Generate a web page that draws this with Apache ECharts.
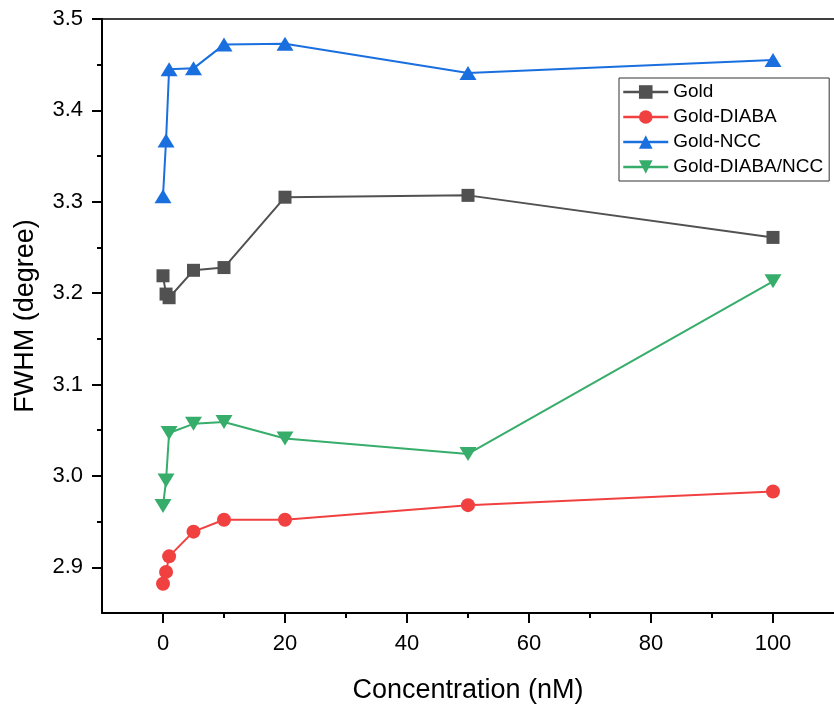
<!DOCTYPE html>
<html>
<head>
<meta charset="utf-8">
<script src="https://cdn.jsdelivr.net/npm/echarts@6/dist/echarts.min.js"></script>
<style>
  html, body { margin: 0; padding: 0; background: #fff; }
  #chart { width: 834px; height: 709px; }
</style>
</head>
<body>
<div id="chart"></div>
<script>
// concentrations (nM)
const conc = [0, 0.5, 1, 5, 10, 20, 50, 100];
const gold = [3.219, 3.199, 3.195, 3.225, 3.228, 3.305, 3.307, 3.261];
const goldDiaba = [2.882, 2.895, 2.912, 2.939, 2.952, 2.952, 2.968, 2.983];
const goldNcc = [3.306, 3.367, 3.445, 3.446, 3.472, 3.473, 3.441, 3.455];
const goldDiabaNcc = [2.967, 2.995, 3.047, 3.057, 3.059, 3.041, 3.024, 3.213];

const xMajor = [0, 20, 40, 60, 80, 100];
const xMinor = [10, 30, 50, 70, 90];
const yMajor = [2.9, 3.0, 3.1, 3.2, 3.3, 3.4, 3.5];
const yMinor = [2.95, 3.05, 3.15, 3.25, 3.35, 3.45];

const font = 'Liberation Sans, Arial, sans-serif';
const toPairs = (ys) => conc.map((x, i) => [x, ys[i]]);

const chart = echarts.init(document.getElementById('chart'));

const hiddenLine = { show: false, onZero: false };
const blackLine = { show: true, onZero: false, lineStyle: { color: '#000', width: 2 } };

const baseX = {
    type: 'value', min: -10, max: 110, interval: 10,
    splitLine: { show: false }
};
const baseY = {
    type: 'value', min: 2.85, max: 3.5, interval: 0.05,
    splitLine: { show: false }
};

// axis that only draws ticks at the given values
const tickAxis = (base, position, values, len) => Object.assign({}, base, {
    position: position,
    axisLine: hiddenLine,
    axisTick: { show: true, customValues: values, length: len, lineStyle: { color: '#000', width: 2 } },
    axisLabel: { show: false }
});

const option = {
    animation: false,
    grid: { left: 102, top: 19, width: 737, height: 594, containLabel: false },
    xAxis: [
        Object.assign({}, baseX, {
            position: 'bottom',
            axisLine: blackLine,
            axisTick: { show: false },
            axisLabel: {
                customValues: xMajor, margin: 20,
                color: '#000', fontSize: 22, fontFamily: font
            },
            name: 'Concentration (nM)',
            nameLocation: 'middle',
            nameGap: 64,
            nameTextStyle: { color: '#000', fontSize: 27, fontFamily: font }
        }),
        tickAxis(baseX, 'bottom', xMajor, 10),
        tickAxis(baseX, 'bottom', xMinor, 5),
        Object.assign({}, baseX, {
            position: 'top',
            axisLine: { show: true, onZero: false, lineStyle: { color: '#000', width: 1.5 } },
            axisTick: { show: false },
            axisLabel: { show: false }
        })
    ],
    yAxis: [
        Object.assign({}, baseY, {
            position: 'left',
            axisLine: blackLine,
            axisTick: { show: false },
            axisLabel: {
                customValues: yMajor, margin: 19,
                color: '#000', fontSize: 22, fontFamily: font,
                formatter: (v) => v.toFixed(1)
            },
            name: 'FWHM (degree)',
            nameLocation: 'middle',
            nameGap: 63,
            nameTextStyle: { color: '#000', fontSize: 27, fontFamily: font }
        }),
        tickAxis(baseY, 'left', yMajor, 10),
        tickAxis(baseY, 'left', yMinor, 5)
    ],
    legend: {
        orient: 'vertical',
        left: 619,
        top: 78,
        width: 210,
        padding: [4, 6, 4, 3],
        itemWidth: 45,
        itemHeight: 17,
        itemGap: 5,
        borderColor: '#333',
        borderWidth: 1,
        lineStyle: { width: 2.5 },
        textStyle: { color: '#000', fontSize: 19, fontFamily: font, lineHeight: 20 },
        data: ['Gold', 'Gold-DIABA', 'Gold-NCC', 'Gold-DIABA/NCC']
    },
    series: [
        {
            name: 'Gold', type: 'line', data: toPairs(gold),
            symbol: 'rect', symbolSize: 13,
            lineStyle: { color: '#515151', width: 2 },
            itemStyle: { color: '#515151' }
        },
        {
            name: 'Gold-DIABA', type: 'line', data: toPairs(goldDiaba),
            symbol: 'circle', symbolSize: 14,
            lineStyle: { color: '#F14040', width: 2 },
            itemStyle: { color: '#F14040' }
        },
        {
            name: 'Gold-NCC', type: 'line', data: toPairs(goldNcc),
            symbol: 'triangle', symbolSize: [17, 14],
            lineStyle: { color: '#1A6FDF', width: 2 },
            itemStyle: { color: '#1A6FDF' }
        },
        {
            name: 'Gold-DIABA/NCC', type: 'line', data: toPairs(goldDiabaNcc),
            symbol: 'triangle', symbolSize: [17, 14], symbolRotate: 180,
            lineStyle: { color: '#37AD6B', width: 2 },
            itemStyle: { color: '#37AD6B' }
        }
    ]
};

chart.setOption(option);
</script>
</body>
</html>
